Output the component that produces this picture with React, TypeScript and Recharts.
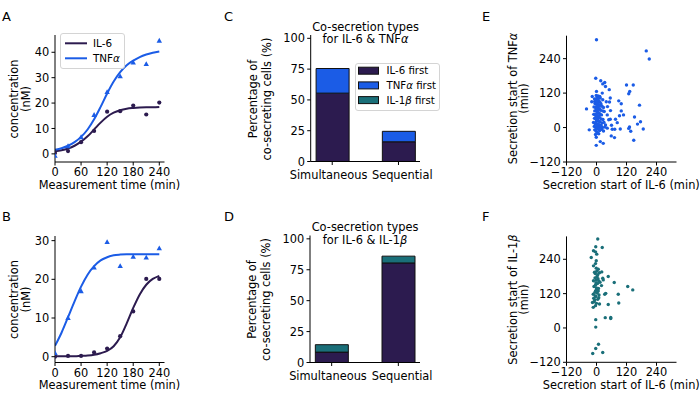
import React from "react";
import {
  ComposedChart,
  BarChart,
  ScatterChart,
  Line,
  Bar,
  Scatter,
  XAxis,
  YAxis,
  Legend,
} from "recharts";

const FONT = '"DejaVu Sans", sans-serif';
const IL6 = "#2c1b4f";
const TNF = "#1b5ce6";
const IL1B = "#1a6f79";

// panel A / B: measured points
const sampleTimes = [0, 30, 60, 90, 120, 150, 180, 210, 240];
const il6PointsA = [0.3, 1.1, 4.6, 9.0, 16.6, 16.8, 19.0, 15.5, 20.2];
const tnfPointsA = [-0.8, 3.0, 6.5, 15.3, 24.3, 30.5, 35.9, 35.3, 44.5];
const il6PointsB = [0, 0.2, 0.2, 1.1, 2.1, 5.3, 11.7, 20.1, 20.1];
const tnfPointsB = [0.9, 10.0, 16.9, 23.0, 29.6, 23.4, 25.8, 25.6, 28.0];

// fitted curves
const fitTimes = [0, 15, 30, 45, 60, 75, 90, 105, 120, 135, 150, 165, 180, 195, 210, 225, 240];
const il6FitA = [1.0, 1.4, 2.1, 3.2, 4.8, 6.9, 9.6, 12.3, 14.6, 16.2, 17.2, 17.8, 18.1, 18.3, 18.4, 18.4, 18.5];
const tnfFitA = [1.6, 2.2, 3.2, 4.6, 6.7, 9.6, 13.6, 18.5, 23.8, 28.5, 32.2, 34.9, 36.7, 38.1, 39.1, 39.8, 40.3];
const il6FitB = [0.1, 0.1, 0.1, 0.1, 0.2, 0.3, 0.5, 0.9, 1.5, 2.7, 5.0, 8.6, 12.6, 16.1, 18.6, 20.1, 20.9];
const tnfFitB = [2.8, 6.2, 10.2, 14.3, 18.1, 21.2, 23.4, 24.9, 25.7, 26.2, 26.4, 26.5, 26.5, 26.5, 26.5, 26.5, 26.5];
const timeTicks = [0, 60, 120, 180, 240];

// panel C / D: stacked bars
const coCategories = ["Simultaneous", "Sequential"];
const il6FirstC = [55.5, 16];
const tnfFirstC = [20, 8.5];
const il6FirstD = [8.4, 80.5];
const il1bFirstD = [6, 5.5];
const pctTicks = [0, 25, 50, 75, 100];

// panel E / F: secretion start times (IL-6 x, other y)
const startE: [number, number][] = [
  [0, 306], [199, 267], [211, 239], [-3, 172], [17, 163], [33, 157], [25, 152], [36, 143],
  [120, 148], [147, 148], [133, 126], [129, 118], [51, 132], [0, 126], [23, 120], [-17, 108],
  [4, 105], [15, 103], [25, 97], [55, 103], [89, 93], [99, 83], [-19, 90], [-7, 91], [39, 90],
  [52, 89], [172, 78], [-40, 65], [44, 73], [56, 59], [99, 58], [108, 44], [92, 41], [152, 37],
  [43, 44], [76, 29], [55, 29], [83, 17], [95, -5], [132, 2], [129, -3], [164, 12], [176, 20],
  [187, -5], [137, -13], [149, -44], [60, 8], [63, -6], [73, -6], [59, -29], [72, -35], [-29, -8],
  [20, -6], [-1, -34], [15, -49], [27, -55], [-1, -62], [49, 27], [36, 9], [43, -2], [9, -22],
  [-8, 100], [-3, 95], [2, 104], [6, 98], [10, 92], [14, 88], [-6, 84], [0, 82], [4, 86], [8, 80],
  [12, 76], [18, 82], [22, 74], [28, 70], [-10, 72], [-4, 70], [1, 74], [5, 68], [9, 64], [13, 66],
  [17, 60], [25, 58], [31, 56], [-7, 58], [-2, 60], [3, 56], [7, 52], [11, 50], [15, 46], [20, 44],
  [-11, 46], [-5, 44], [0, 48], [4, 40], [8, 36], [12, 34], [19, 30], [26, 28], [-8, 32], [-3, 30],
  [1, 34], [5, 26], [9, 22], [14, 20], [22, 16], [30, 18], [-12, 18], [-6, 14], [-1, 20], [3, 12],
  [7, 8], [11, 4], [16, 2], [24, 0], [-9, 4], [-4, 2], [1, 6], [5, -2], [9, -6], [13, -10],
  [-7, -8], [-2, -12], [3, -16], [6, -20], [-4, -24], [0, -4], [2, 62], [6, 110], [-1, 112],
  [13, 108], [0, 28], [2, 90], [10, 40], [-2, 40], [8, 12], [18, 8], [34, 2], [28, -12],
];
const startF: [number, number][] = [
  [5, 311], [-3, 284], [23, 281], [-12, 270], [-4, 266], [1, 258], [-21, 246], [-1, 235],
  [-12, 217], [-1, 209], [1, 198], [12, 193], [21, 196], [-5, 190], [5, 186], [47, 180],
  [25, 174], [27, 168], [-1, 168], [9, 164], [71, 159], [-4, 150], [20, 148], [125, 145],
  [145, 133], [1, 135], [-4, 129], [7, 129], [-13, 118], [37, 121], [33, 118], [87, 118],
  [-4, 112], [9, 106], [-11, 104], [-7, 98], [12, 84], [47, 82], [89, 87], [-16, 89], [-4, 78],
  [-13, 72], [35, 36], [57, 37], [57, 33], [-3, 29], [-3, 3], [8, -57], [-3, -72], [-15, -89],
  [25, -86], [-8, 195], [2, 180], [-6, 175], [6, 172], [-2, 158], [4, 155], [-10, 145], [0, 140],
  [8, 138], [-6, 125], [3, 122], [-3, 110], [5, 100], [-9, 92], [0, 86], [10, 115], [14, 160],
  [-12, 165], [7, 205], [-4, 225],
];
const startTicks = [-120, 0, 120, 240];

const toXY = (xs: number[], ys: number[]) => xs.map((x, i) => ({ x, y: ys[i] }));
const toPts = (arr: [number, number][]) => arr.map(([x, y]) => ({ x, y }));

const tickStyle = { fill: "#000", fontSize: 11.4, fontFamily: FONT };
const minusFmt = (v: number) => (v < 0 ? "\u2212" + Math.abs(v) : String(v));

const circleShape = (color: string, r: number) => (p: any) =>
  <circle cx={p.cx} cy={p.cy} r={r} fill={color} />;
const triangleShape = (color: string) => (p: any) => (
  <polygon
    points={`${p.cx},${p.cy - 3} ${p.cx - 2.7},${p.cy + 1.9} ${p.cx + 2.7},${p.cy + 1.9}`}
    fill={color}
  />
);

// category labels sit a little apart from the bar centres in the original
const catShift = [-3.7, 3.8];
const CategoryTick = (p: any) => (
  <text x={p.x + catShift[p.payload.value]} y={p.y} dy="0.71em" textAnchor="middle" {...tickStyle}>
    {coCategories[p.payload.value]}
  </text>
);

function LineLegend() {
  const rows = [
    { label: "IL-6", greek: "", color: IL6 },
    { label: "TNF", greek: "α", color: TNF },
  ];
  return (
    <svg width={65} height={36} style={{ display: "block" }}>
      <rect x={0.5} y={0.5} width={64} height={35} rx={2.5} fill="#fff" fillOpacity={0.85} stroke="#d4d4d4" />
      {rows.map((r, i) => (
        <g key={r.label}>
          <line x1={5} x2={27} y1={10.3 + i * 15} y2={10.3 + i * 15} stroke={r.color} strokeWidth={2} />
          <text x={33} y={14 + i * 15} fontSize={10.4} fontFamily={FONT} fill="#000">
            {r.label}
            {r.greek && <tspan fontStyle="italic">{r.greek}</tspan>}
          </text>
        </g>
      ))}
    </svg>
  );
}

function BarLegend() {
  const rows = [
    { pre: "IL-6", greek: "", color: IL6 },
    { pre: "TNF", greek: "α", color: TNF },
    { pre: "IL-1", greek: "β", color: IL1B },
  ];
  return (
    <svg width={85} height={48} style={{ display: "block" }}>
      <rect x={0.5} y={0.5} width={84} height={47} rx={2.5} fill="#fff" fillOpacity={0.85} stroke="#d4d4d4" />
      {rows.map((r, i) => (
        <g key={r.pre}>
          <rect x={3.5} y={4.2 + i * 14.7} width={20} height={7} fill={r.color} stroke="#111" strokeWidth={1} />
          <text x={31.5} y={11.4 + i * 14.7} fontSize={10.2} fontFamily={FONT} fill="#000">
            {r.pre}
            {r.greek && <tspan fontStyle="italic">{r.greek}</tspan>}
            {" first"}
          </text>
        </g>
      ))}
    </svg>
  );
}

function TimeCourse(props: {
  top: number;
  xAxisH: number;
  yDomain: [number, number];
  yTicks: number[];
  il6Pts: number[];
  tnfPts: number[];
  il6Fit: number[];
  tnfFit: number[];
  legend?: boolean;
}) {
  const { top, xAxisH, yDomain, yTicks, legend } = props;
  return (
    <ComposedChart width={180} height={200} margin={{ top, right: 15.5, bottom: 0, left: 0 }}>
      <XAxis
        dataKey="x"
        type="number"
        domain={[0, 252]}
        ticks={timeTicks}
        interval={0}
        allowDataOverflow
        height={xAxisH}
        stroke="#000"
        tickSize={3.5}
        tickMargin={2.5}
        tick={tickStyle}
      />
      <YAxis
        type="number"
        domain={yDomain}
        ticks={yTicks}
        interval={0}
        allowDataOverflow
        width={55}
        stroke="#000"
        tickSize={3.5}
        tickMargin={2.3}
        tick={tickStyle}
      />
      <Line data={toXY(fitTimes, props.il6Fit)} dataKey="y" type="monotone" stroke={IL6} strokeWidth={2} dot={false} activeDot={false} isAnimationActive={false} />
      <Line data={toXY(fitTimes, props.tnfFit)} dataKey="y" type="monotone" stroke={TNF} strokeWidth={2} dot={false} activeDot={false} isAnimationActive={false} />
      <Scatter data={toXY(sampleTimes, props.il6Pts)} dataKey="y" fill={IL6} shape={circleShape(IL6, 2.1)} isAnimationActive={false} />
      <Scatter data={toXY(sampleTimes, props.tnfPts)} dataKey="y" fill={TNF} shape={triangleShape(TNF)} isAnimationActive={false} />
      {legend && (
        <Legend
          layout="vertical"
          align="center"
          verticalAlign="middle"
          content={() => <LineLegend />}
          wrapperStyle={{ left: 60, top: 33, width: 65, height: 36 }}
        />
      )}
    </ComposedChart>
  );
}

function CoSecretion(props: {
  top: number;
  xAxisH: number;
  yAxisW: number;
  first: number[];
  second: number[];
  secondColor: string;
  legend?: boolean;
}) {
  const data = coCategories.map((c, i) => ({ x: i, name: c, first: props.first[i], second: props.second[i] }));
  return (
    <BarChart width={200} height={200} data={data} margin={{ top: props.top, right: 20, bottom: 0, left: 0 }}>
      <XAxis
        dataKey="x"
        type="number"
        domain={[-0.325, 1.325]}
        ticks={[0, 1]}
        interval={0}
        allowDataOverflow
        height={props.xAxisH}
        stroke="#000"
        tickSize={3.5}
        tickMargin={5.8}
        tick={CategoryTick}
      />
      <YAxis
        type="number"
        domain={[0, 102.7]}
        ticks={pctTicks}
        interval={0}
        allowDataOverflow
        width={props.yAxisW}
        stroke="#000"
        tickSize={3.5}
        tickMargin={2.3}
        tick={tickStyle}
      />
      <Bar dataKey="first" stackId="s" fill={IL6} stroke="#111" strokeWidth={1} barSize={33} isAnimationActive={false} />
      <Bar dataKey="second" stackId="s" fill={props.secondColor} stroke="#111" strokeWidth={1} barSize={33} isAnimationActive={false} />
      {props.legend && (
        <Legend
          layout="vertical"
          align="center"
          verticalAlign="middle"
          content={() => <BarLegend />}
          wrapperStyle={{ left: 115, top: 63, width: 85, height: 48 }}
        />
      )}
    </BarChart>
  );
}

function StartScatter(props: { top: number; xAxisH: number; pts: [number, number][]; color: string }) {
  return (
    <ScatterChart width={220} height={200} margin={{ top: props.top, right: 23.5, bottom: 0, left: 0 }}>
      <XAxis
        dataKey="x"
        type="number"
        domain={[-120, 320]}
        ticks={startTicks}
        interval={0}
        allowDataOverflow
        tickFormatter={minusFmt}
        height={props.xAxisH}
        stroke="#000"
        tickSize={3.5}
        tickMargin={2.5}
        tick={tickStyle}
      />
      <YAxis
        dataKey="y"
        type="number"
        domain={[-120, 320]}
        ticks={startTicks}
        interval={0}
        allowDataOverflow
        tickFormatter={minusFmt}
        width={86.5}
        stroke="#000"
        tickSize={3.5}
        tickMargin={2.3}
        tick={tickStyle}
      />
      <Scatter data={toPts(props.pts)} fill={props.color} shape={circleShape(props.color, 1.7)} isAnimationActive={false} />
    </ScatterChart>
  );
}

const T = (p: { x: number; y: number; children: React.ReactNode; size?: number; anchor?: string; rot?: boolean }) => (
  <text
    transform={`translate(${p.x},${p.y})${p.rot ? " rotate(-90)" : ""}`}
    textAnchor={(p.anchor as any) || "middle"}
    fontSize={p.size || 11.4}
    fontFamily={FONT}
    fill="#000"
  >
    {p.children}
  </text>
);
const it = (s: string) => <tspan fontStyle="italic">{s}</tspan>;

export default function App() {
  const place = (left: number, top: number): React.CSSProperties => ({ position: "absolute", left, top });
  return (
    <div style={{ position: "absolute", left: 0, top: 0, width: 700, height: 403, background: "#fff", overflow: "hidden" }}>
      <div style={place(0, 0)}>
        <TimeCourse top={35} xAxisH={38} yDomain={[-3.2, 46.8]} yTicks={[0, 10, 20, 30, 40]}
          il6Pts={il6PointsA} tnfPts={tnfPointsA} il6Fit={il6FitA} tnfFit={tnfFitA} legend />
      </div>
      <div style={place(0, 200)}>
        <TimeCourse top={36} xAxisH={37.5} yDomain={[-1.5, 31.2]} yTicks={[0, 10, 20, 30]}
          il6Pts={il6PointsB} tnfPts={tnfPointsB} il6Fit={il6FitB} tnfFit={tnfFitB} />
      </div>
      <div style={place(240, 0)}>
        <CoSecretion top={35} xAxisH={38.5} yAxisW={70.7} first={il6FirstC} second={tnfFirstC} secondColor={TNF} legend />
      </div>
      <div style={place(240, 200)}>
        <CoSecretion top={35.5} xAxisH={37.5} yAxisW={70} first={il6FirstD} second={il1bFirstD} secondColor={IL1B} />
      </div>
      <div style={place(480, 0)}>
        <StartScatter top={35.7} xAxisH={38} pts={startE} color={TNF} />
      </div>
      <div style={place(480, 200)}>
        <StartScatter top={36.4} xAxisH={37.7} pts={startF} color={IL1B} />
      </div>

      <svg width={700} height={403} style={{ position: "absolute", left: 0, top: 0, pointerEvents: "none" }}>
        <T x={2} y={21} size={13} anchor="start">A</T>
        <T x={2} y={221} size={13} anchor="start">B</T>
        <T x={224} y={21} size={13} anchor="start">C</T>
        <T x={224} y={221} size={13} anchor="start">D</T>
        <T x={482} y={21} size={13} anchor="start">E</T>
        <T x={482} y={221} size={13} anchor="start">F</T>

        <T x={18.3} y={99} rot>concentration</T>
        <T x={29.8} y={99} rot>(nM)</T>
        <T x={109.5} y={188.5}>Measurement time (min)</T>
        <T x={18.3} y={299.5} rot>concentration</T>
        <T x={29.8} y={299.5} rot>(nM)</T>
        <T x={109.5} y={389}>Measurement time (min)</T>

        <T x={365.5} y={30.5}>Co-secretion types</T>
        <T x={365.5} y={43.3}>for IL-6 &amp; TNF{it("α")}</T>
        <T x={256.8} y={99} rot>Percentage of</T>
        <T x={270.5} y={99} rot>co-secreting cells (%)</T>
        <T x={365} y={231}>Co-secretion types</T>
        <T x={365} y={243.8}>for IL-6 &amp; IL-1{it("β")}</T>
        <T x={256.3} y={299.5} rot>Percentage of</T>
        <T x={270} y={299.5} rot>co-secreting cells (%)</T>

        <T x={516.5} y={98.5} rot>Secretion start of TNF{it("α")}</T>
        <T x={527.5} y={98.5} rot>(min)</T>
        <T x={621.3} y={188.5}>Secretion start of IL-6 (min)</T>
        <T x={516.5} y={299.5} rot>Secretion start of IL-1{it("β")}</T>
        <T x={527.5} y={299.5} rot>(min)</T>
        <T x={621.3} y={389}>Secretion start of IL-6 (min)</T>
      </svg>
    </div>
  );
}
